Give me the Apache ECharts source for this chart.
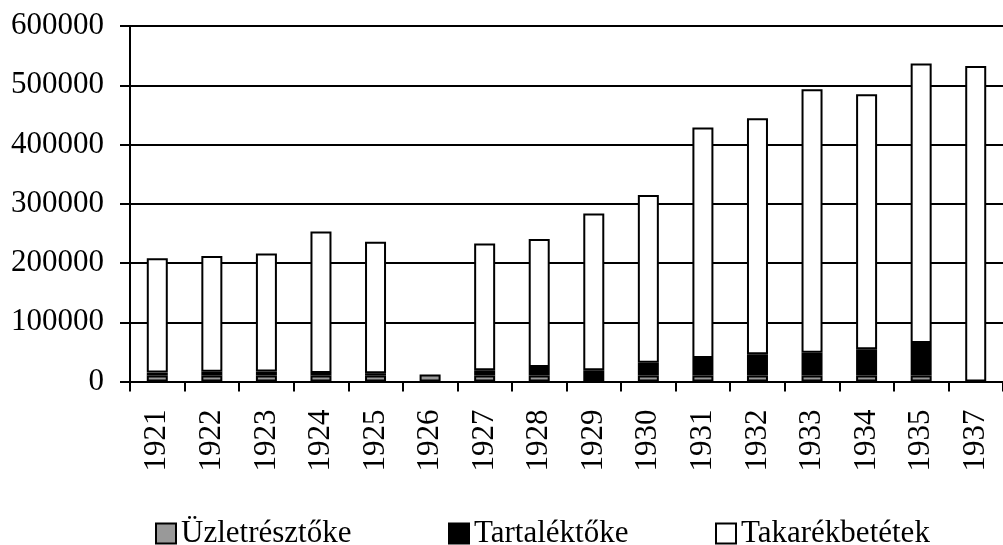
<!DOCTYPE html>
<html>
<head>
<meta charset="utf-8">
<script src="https://cdn.jsdelivr.net/npm/echarts@6/dist/echarts.min.js"></script>
<style>
html,body{margin:0;padding:0;background:#fff;}
#chart{width:1003px;height:545px;}
</style>
</head>
<body>
<div id="chart"></div>
<script>
const years = ['1921','1922','1923','1924','1925','1926','1927','1928','1929','1930','1931','1932','1933','1934','1935','1937'];
const uzletresztoke = [10000,10000,10000,10000,10000,12000,10000,10000,'-',10000,10000,10000,10000,10000,10000,'-'];
const tartaloktoke = [5000,6500,7000,4500,4000,'-',9000,14500,19000,21700,29600,35900,38600,44300,54900,'-'];
const takarekbetetek = [193000,195500,199000,238500,222000,'-',214000,216000,264500,283000,389100,398600,444800,430700,471700,532700];
const yTicks = [0,100000,200000,300000,400000,500000,600000];
const seriesNames = ['Üzletrésztőke','Tartaléktőke','Takarékbetétek'];

const FONT = 'Liberation Serif';
const chart = echarts.init(document.getElementById('chart'), null, {renderer:'canvas'});

const barStyle = (color) => ({color: color, borderColor:'#000', borderWidth:2});

chart.setOption({
  animation:false,
  backgroundColor:'#fff',
  grid:{left:130, top:26, width:885, bottom:163.5, containLabel:false},
  xAxis:{
    type:'category',
    data:years,
    axisLine:{lineStyle:{color:'#000', width:2}},
    axisTick:{show:true, length:10, lineStyle:{color:'#000', width:2}},
    axisLabel:{rotate:90, interval:0, margin:28, color:'#000', fontFamily:FONT, fontSize:31}
  },
  yAxis:{
    type:'value',
    min:yTicks[0], max:yTicks[yTicks.length-1], interval:100000,
    axisLine:{show:true, lineStyle:{color:'#000', width:2}},
    axisTick:{show:true, length:10, lineStyle:{color:'#000', width:2}},
    splitLine:{show:true, lineStyle:{color:'#000', width:2}},
    axisLabel:{margin:26, color:'#000', fontFamily:FONT, fontSize:31, formatter:(v)=>String(v)}
  },
  legend:[
    {data:[seriesNames[0]], left:150, top:513, itemWidth:20, itemHeight:20, icon:'rect',
     textStyle:{color:'#000', fontFamily:FONT, fontSize:31}},
    {data:[seriesNames[1]], left:443, top:513, itemWidth:20, itemHeight:20, icon:'rect',
     textStyle:{color:'#000', fontFamily:FONT, fontSize:31}},
    {data:[seriesNames[2]], left:710, top:513, itemWidth:20, itemHeight:20, icon:'rect',
     textStyle:{color:'#000', fontFamily:FONT, fontSize:31}}
  ],
  series:[
    {name:seriesNames[0], type:'bar', stack:'s', barWidth:21, data:uzletresztoke, itemStyle:barStyle('#999999')},
    {name:seriesNames[1], type:'bar', stack:'s', barWidth:21, data:tartaloktoke, itemStyle:barStyle('#000000')},
    {name:seriesNames[2], type:'bar', stack:'s', barWidth:21, data:takarekbetetek, itemStyle:barStyle('#ffffff')}
  ]
});
</script>
</body>
</html>
